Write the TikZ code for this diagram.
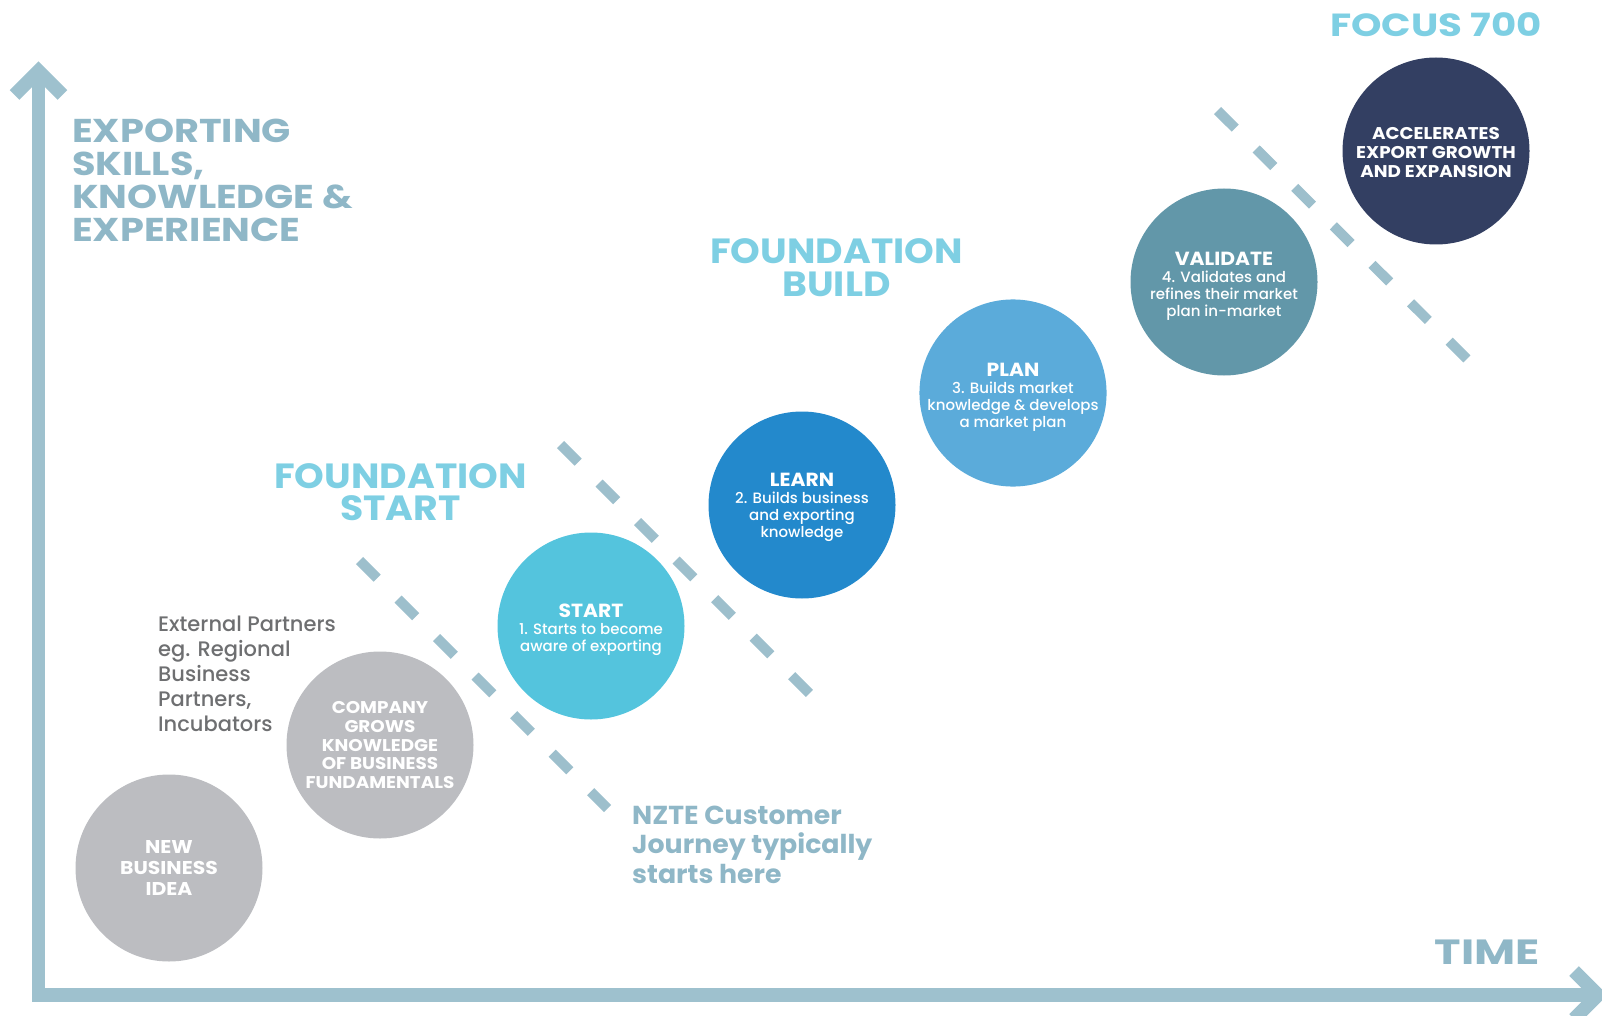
\documentclass[tikz,border=0pt]{standalone}
\usepackage{fontspec}
\setmainfont{Poppins}
\newfontfamily\pmed{Poppins Medium}
\definecolor{axisc}{HTML}{9EC1CE}
\definecolor{headc}{HTML}{8FB7C7}
\definecolor{cyanc}{HTML}{7ECFE3}
\definecolor{greyc}{HTML}{BCBDC1}
\definecolor{startc}{HTML}{54C4DD}
\definecolor{learnc}{HTML}{2389CC}
\definecolor{planc}{HTML}{5BABDA}
\definecolor{validc}{HTML}{6297A9}
\definecolor{accelc}{HTML}{333F62}
\definecolor{partc}{HTML}{6E6F71}
\definecolor{dashc}{HTML}{9DBFCC}
\newcommand{\stagetitle}[2][22pt]{{\rmfamily\bfseries\fontsize{19}{17}\selectfont\addfontfeature{FakeStretch=1.07}\rule{0pt}{#1}#2}}
\newcommand{\wide}[1]{\addfontfeature{FakeStretch=#1}}
\begin{document}
\begin{tikzpicture}[x=1pt,y=-1pt,
  axisline/.style={line width=13.5pt, draw=axisc, line join=miter},
  dashline/.style={line width=10pt, draw=dashc, dash pattern=on 25pt off 29.5pt},
  stage/.style={circle, minimum size=187pt, inner sep=0pt, text=white, align=center},
  capsfont/.style={font=\fontsize{17}{18.8}\selectfont\bfseries\wide{1.08}},
  bodyfont/.style={font=\pmed\fontsize{15}{17}\selectfont},
  heading/.style={inner sep=0pt, font=\fontsize{35}{33}\selectfont\bfseries}]
\useasboundingbox (0,0) rectangle (1602,1016);
% axes
\coordinate (origin) at (38.5,995);
\coordinate (ytip) at (38.5,71);
\coordinate (xtip) at (1598,995);
\coordinate (yl) at (14.5,95);
\coordinate (yr) at (62.5,95);
\coordinate (xu) at (1574,971);
\coordinate (xd) at (1574,1019);
\draw[axisline] (ytip) -- (origin) -- (xtip);
\draw[axisline] (yl) -- (ytip) -- (yr);
\draw[axisline] (xu) -- (xtip) -- (xd);
% dashed lines
\coordinate (d1s) at (359.5,560.5);
\coordinate (d1e) at (607.5,808.5);
\coordinate (d2s) at (560.5,444.5);
\coordinate (d2e) at (811.5,695.5);
\coordinate (d3s) at (1217.5,110.5);
\coordinate (d3e) at (1467.5,359.5);
\draw[dashline] (d1s) -- (d1e);
\draw[dashline] (d2s) -- (d2e);
\draw[dashline] (d3s) -- (d3e);
% circles
\node[stage, fill=greyc, font=\fontsize{18.5}{21}\selectfont\bfseries\wide{1.1}] (idea) at (169,868) {NEW\\BUSINESS\\IDEA};
\node[stage, fill=greyc, capsfont] (company) at (380,745) {COMPANY\\GROWS\\KNOWLEDGE\\OF BUSINESS\\FUNDAMENTALS};
\node[stage, fill=startc, bodyfont] (start) at (591,626) {\stagetitle{START}\\1. Starts to become\\aware of exporting};
\node[stage, fill=learnc, bodyfont] (learn) at (802,505) {\stagetitle[18pt]{LEARN}\\2. Builds business\\and exporting\\knowledge};
\node[stage, fill=planc, bodyfont] (plan) at (1013,393) {\stagetitle{PLAN}\\3. Builds market\\knowledge \& develops\\a market plan};
\node[stage, fill=validc, bodyfont] (validate) at (1224,282) {\stagetitle{VALIDATE}\\4. Validates and\\refines their market\\plan in-market};
\node[stage, fill=accelc, font=\fontsize{17}{19}\selectfont\bfseries\wide{1.08}, text depth=0pt] (accel) at (1436,151) {\rule{0pt}{16pt}ACCELERATES\\EXPORT GROWTH\\AND EXPANSION};
% headings
\node[heading, text=headc, anchor=north west, align=left, font=\fontsize{33}{33}\selectfont\bfseries\wide{1.16}] (yaxislabel) at (72,119) {EXPORTING\\SKILLS,\\KNOWLEDGE \&\\EXPERIENCE};
\node[heading, text=cyanc, anchor=north, align=center, font=\fontsize{35}{32}\selectfont\bfseries\wide{1.08}] (fstart) at (400.5,463) {FOUNDATION\\START};
\node[heading, text=cyanc, anchor=north, align=center, font=\fontsize{35}{33}\selectfont\bfseries\wide{1.08}] (fbuild) at (836.5,238) {FOUNDATION\\BUILD};
\node[heading, text=cyanc, anchor=north east, font=\fontsize{32}{32}\selectfont\bfseries\wide{1.21}] (focus) at (1542,12) {FOCUS 700};
\node[heading, text=headc, anchor=north east, font=\fontsize{35}{35}\selectfont\bfseries\wide{1.28}] (time) at (1540,939.5) {TIME};
\node[heading, text=headc, anchor=north west, align=left, font=\fontsize{26}{29.5}\selectfont\bfseries\wide{1.03}] (nzte) at (632,805.5) {NZTE Customer\\Journey typically\\starts here};
\node[heading, text=partc, anchor=north west, align=left, font=\pmed\fontsize{21}{25}\selectfont] (partners) at (158,616) {External Partners\\eg. Regional\\Business\\Partners,\\Incubators};
\end{tikzpicture}
\end{document}
